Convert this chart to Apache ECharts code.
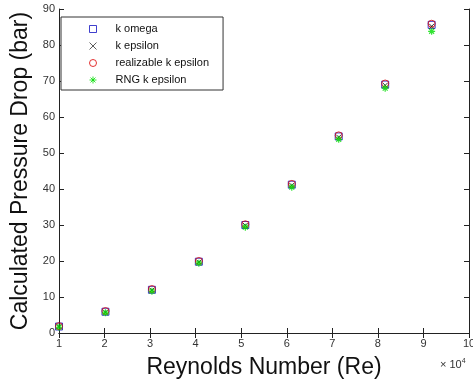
<!DOCTYPE html>
<html>
<head>
<meta charset="utf-8">
<script src="https://cdn.jsdelivr.net/npm/echarts@6/dist/echarts.min.js"></script>
<style>
  html, body { margin: 0; padding: 0; background: #fff; }
  #chart { width: 473px; height: 380px; }
</style>
</head>
<body>
<div id="chart"></div>
<script>
// Reynolds numbers of the simulated cases
const reynolds = [10000, 20200, 30400, 40700, 50900, 61100, 71400, 81600, 91800];

// Calculated pressure drop (bar) for each turbulence model
const kOmega      = [1.8, 5.9, 12.0, 19.8, 30.0, 41.2, 54.6, 69.0, 85.6];
const kEpsilon    = [1.8, 5.8, 11.9, 19.7, 29.9, 41.0, 54.4, 68.8, 85.2];
const realizable  = [1.9, 6.1, 12.2, 20.0, 30.2, 41.4, 54.9, 69.3, 85.9];
const rngKEpsilon = [1.6, 5.6, 11.6, 19.4, 29.4, 40.5, 53.8, 68.0, 83.8];

const seriesNames = ['k omega', 'k epsilon', 'realizable k epsilon', 'RNG k epsilon'];

const FONT = 'Liberation Sans, Arial, Helvetica, sans-serif';
const AXIS_COLOR = '#222';

const pairs = vals => reynolds.map((re, i) => [re, vals[i]]);

const crossPath = 'path://M0,0L10,10M10,0L0,10';
const starPath = 'path://M5,0L5,10M0,5L10,5M1.5,1.5L8.5,8.5M8.5,1.5L1.5,8.5';

const chart = echarts.init(document.getElementById('chart'), null, { renderer: 'canvas' });

const tickStyle = { inside: true, length: 5, lineStyle: { color: AXIS_COLOR, width: 1 } };
const lineStyle = { show: true, lineStyle: { color: AXIS_COLOR, width: 1 } };

chart.setOption({
  animation: false,
  backgroundColor: '#fff',
  textStyle: { fontFamily: FONT },
  grid: { left: 59, top: 9, width: 410, height: 324, containLabel: false, outerBoundsMode: 'none' },
  legend: {
    orient: 'vertical',
    left: 61,
    top: 17,
    padding: [6, 14, 4, 28],
    itemGap: 5,
    itemWidth: 7,
    itemHeight: 7,
    itemStyle: { borderWidth: 1 },
    borderColor: '#333',
    borderWidth: 1,
    backgroundColor: '#fff',
    textStyle: { fontFamily: FONT, fontSize: 11, color: '#111', padding: [0, 0, 0, 14], lineHeight: 12 },
    data: [
      { name: seriesNames[0], itemStyle: { borderWidth: 1 } },
      { name: seriesNames[1], itemStyle: { borderWidth: 0.8 } },
      { name: seriesNames[2], itemStyle: { borderWidth: 1 } },
      { name: seriesNames[3], itemStyle: { borderWidth: 1 } }
    ]
  },
  xAxis: [
    {
      type: 'value', min: 10000, max: 100000, interval: 10000,
      position: 'bottom',
      axisLine: lineStyle, axisTick: tickStyle, splitLine: { show: false },
      axisLabel: { color: '#333', fontSize: 11, margin: 5, formatter: v => String(v / 10000) },
      name: 'Reynolds Number (Re)', nameLocation: 'middle', nameGap: 23,
      nameTextStyle: { fontSize: 23, color: '#111', fontFamily: FONT, verticalAlign: 'top' }
    },
    {
      type: 'value', min: 10000, max: 100000, interval: 10000,
      position: 'top',
      axisLine: lineStyle, axisTick: tickStyle, splitLine: { show: false },
      axisLabel: { show: false }
    }
  ],
  yAxis: [
    {
      type: 'value', min: 0, max: 90, interval: 10,
      position: 'left',
      axisLine: lineStyle, axisTick: tickStyle, splitLine: { show: false },
      axisLabel: { color: '#333', fontSize: 11, margin: 4 },
      name: 'Calculated Pressure Drop (bar)', nameLocation: 'middle', nameGap: 20,
      nameTextStyle: { fontSize: 23, color: '#111', fontFamily: FONT }
    },
    {
      type: 'value', min: 0, max: 90, interval: 10,
      position: 'right',
      axisLine: lineStyle, axisTick: tickStyle, splitLine: { show: false },
      axisLabel: { show: false }
    }
  ],
  graphic: [
    {
      type: 'text', left: 440, top: 358,
      style: {
        text: '{a|\u00d7 10}{b|4}',
        rich: {
          a: { fontSize: 11, fontFamily: FONT, fill: '#333' },
          b: { fontSize: 7, fontFamily: FONT, fill: '#333', verticalAlign: 'top', padding: [0, 0, 7, 0] }
        }
      }
    }
  ],
  series: [
    {
      name: 'k omega', type: 'scatter', data: pairs(kOmega),
      symbol: 'rect', symbolSize: 7,
      itemStyle: { color: 'transparent', borderColor: '#1010c0', borderWidth: 1 }
    },
    {
      name: 'k epsilon', type: 'scatter', data: pairs(kEpsilon),
      symbol: crossPath, symbolSize: 5,
      itemStyle: { color: 'transparent', borderColor: '#000', borderWidth: 1 }
    },
    {
      name: 'realizable k epsilon', type: 'scatter', data: pairs(realizable),
      symbol: 'circle', symbolSize: 7,
      itemStyle: { color: 'transparent', borderColor: '#dd0000', borderWidth: 1 }
    },
    {
      name: 'RNG k epsilon', type: 'scatter', data: pairs(rngKEpsilon),
      symbol: starPath, symbolSize: 7,
      itemStyle: { color: 'transparent', borderColor: '#00dd00', borderWidth: 1.2 }
    }
  ]
});
</script>
</body>
</html>
